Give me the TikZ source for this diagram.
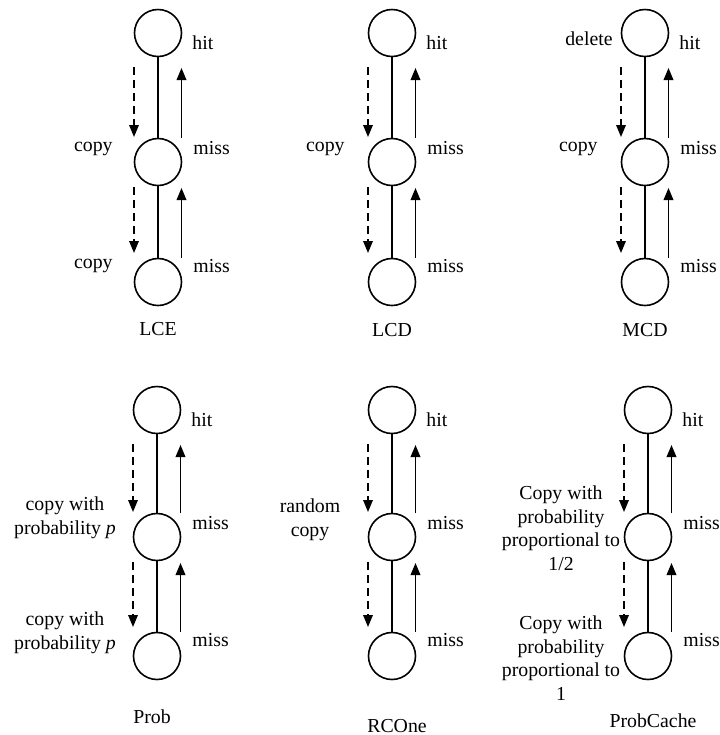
\documentclass[tikz,border=0pt]{standalone}
\usepackage{fontspec}
\setmainfont{Liberation Serif}
\usetikzlibrary{arrows.meta}

\tikzset{
  cnode/.style={draw, circle, line width=0.8pt, minimum size=23.5pt, inner sep=0pt},
  link/.style={line width=0.75pt},
  fwd/.style={line width=0.7pt, dash pattern=on 4pt off 2.5pt, -{Triangle[length=6pt,width=4.8pt]}},
  back/.style={line width=0.8pt, -{Triangle[length=6pt,width=4.8pt]}},
  lbl/.style={inner sep=0pt, font=\fontsize{9.9pt}{11.75pt}\selectfont},
  mlbl/.style={lbl, align=center},
}

% one cache path: three nodes stacked vertically, request and copy arrows,
% hit/miss labels on the right
\newcommand\cachecol[5]{%
  \node[cnode] (#1t) at (#2,#3) {};
  \node[cnode] (#1m) at (#2,#4) {};
  \node[cnode] (#1b) at (#2,#5) {};
  \draw[link] (#1t) -- (#1m);
  \draw[link] (#1m) -- (#1b);
  \coordinate (#1ds1) at ({#2-24},{#3+34});
  \coordinate (#1de1) at ({#2-24},{#4-25});
  \coordinate (#1ds2) at ({#2-24},{#4+25});
  \coordinate (#1de2) at ({#2-24},{#5-29});
  \coordinate (#1us1) at ({#2+23.5},{#4-24});
  \coordinate (#1ue1) at ({#2+23.5},{#3+35});
  \coordinate (#1us2) at ({#2+23.5},{#5-24});
  \coordinate (#1ue2) at ({#2+23.5},{#4+26});
  \draw[fwd] (#1ds1) -- (#1de1);
  \draw[fwd] (#1ds2) -- (#1de2);
  \draw[back] (#1us1) -- (#1ue1);
  \draw[back] (#1us2) -- (#1ue2);
  \node[lbl, anchor=base west] (#1hit) at ({#2+34},{#3+16}) {hit};
  \node[lbl, anchor=base west] (#1missA) at ({#2+35},{#4-8}) {miss};
  \node[lbl, anchor=base west] (#1missB) at ({#2+35},{#5-10}) {miss};
}

\begin{document}
\begin{tikzpicture}[x=0.5pt, y=-0.5pt]
  \useasboundingbox (0,0) rectangle (719,735);

  % upper row
  \cachecol{lce}{158}{33}{162}{282}
  \cachecol{lcd}{392}{33}{162}{282}
  \cachecol{mcd}{645}{33}{162}{282}

  \node[lbl, anchor=base east] (lceCopyA) at (113,151) {copy};
  \node[lbl, anchor=base east] (lceCopyB) at (113,268) {copy};
  \node[lbl, anchor=base] (lceName) at (158,335) {LCE};

  \node[lbl, anchor=base east] (lcdCopy) at (345,151) {copy};
  \node[lbl, anchor=base] (lcdName) at (392,336) {LCD};

  \node[lbl, anchor=base east] (mcdDelete) at (613,45) {delete};
  \node[lbl, anchor=base east] (mcdCopy) at (598,151) {copy};
  \node[lbl, anchor=base] (mcdName) at (645,336) {MCD};

  % lower row (multi-line labels are placed by their last baseline)
  \cachecol{prob}{157}{410}{537}{656}
  \cachecol{rco}{392}{410}{537}{656}
  \cachecol{pc}{648}{410}{537}{656}

  \node[mlbl, anchor=base] (probCopyA) at (65,534) {copy with\\probability \textit{p}};
  \node[mlbl, anchor=base] (probCopyB) at (65,649) {copy with\\probability \textit{p}};
  \node[lbl, anchor=base] (probName) at (152,723) {Prob};

  \node[mlbl, anchor=base] (rcoCopy) at (310,536) {random\\copy};
  \node[lbl, anchor=base] (rcoName) at (397,732) {RCOne};

  \node[mlbl, anchor=base] (pcCopyA) at (561,570) {Copy with\\probability\\proportional to\\1/2};
  \node[mlbl, anchor=base] (pcCopyB) at (561,700) {Copy with\\probability\\proportional to\\1};
  \node[lbl, anchor=base] (pcName) at (653,727) {ProbCache};
\end{tikzpicture}
\end{document}
